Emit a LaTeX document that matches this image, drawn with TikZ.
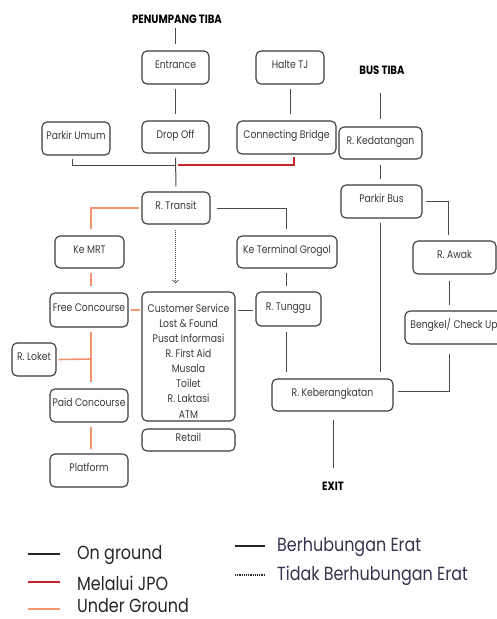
\documentclass[tikz,border=0pt]{standalone}
\usepackage{fontspec}
\setmainfont[FakeStretch=0.84]{Poppins}
\usetikzlibrary{arrows.meta}
\definecolor{ln}{HTML}{4A4A4A}
\definecolor{bd}{HTML}{3A3A3A}
\definecolor{jpo}{HTML}{C4262E}
\definecolor{ug}{HTML}{F0956E}
\definecolor{navy}{HTML}{34344F}
\newcommand\bx[6]{\node[box,minimum width={(#4)-(#2)},minimum height={(#5)-(#3)}] (#1) at ({((#2)+(#4))/2},{((#3)+(#5))/2}) {#6};}
\begin{document}
\begin{tikzpicture}[x=1pt,y=-1pt,
 box/.style={draw=bd,line width=1.1pt,rounded corners=5pt,fill=white,inner sep=0pt,text=bd,
   font=\fontsize{11}{12}\selectfont,text height=7.5pt,text depth=5pt},
 gl/.style={draw=ln,line width=1pt},
 rl/.style={draw=jpo,line width=2pt},
 ol/.style={draw=ug,line width=1.6pt},
 ttl/.style={font=\bfseries\fontsize{12}{13}\selectfont,text=black,inner sep=0pt},
 lgl/.style={font=\fontsize{19}{22}\selectfont,text=black!85,inner sep=0pt,anchor=west},
 lgr/.style={font=\fontsize{19}{22}\selectfont,text=navy,inner sep=0pt,anchor=west}]
\useasboundingbox (0,0) rectangle (497,619);
\clip (0,0) rectangle (497,619);
% titles
\node[ttl] (pt) at (177,19) {PENUMPANG TIBA};
\node[ttl] (bt) at (382,70) {BUS TIBA};
\node[ttl] (exit) at (333,486) {EXIT};
% boxes
\bx{entrance}{142}{51}{209}{84}{Entrance}
\bx{dropoff}{142}{121}{209}{153}{Drop Off}
\bx{pu}{42}{122}{110}{155}{Parkir Umum}
\bx{halte}{256}{51}{324}{84}{Halte TJ}
\bx{cb}{237}{121}{336}{154}{Connecting Bridge}
\bx{kedat}{339}{127}{422}{159}{R. Kedatangan}
\bx{pbus}{341}{185}{422}{218}{Parkir Bus}
\bx{transit}{142}{192}{210}{224}{R. Transit}
\bx{kemrt}{55}{236}{124}{268}{Ke MRT}
\bx{kt}{237}{236}{337}{268}{Ke Terminal Grogol}
\bx{awak}{413}{241}{496}{274}{R. Awak}
\bx{bengkel}{405}{311}{503}{344}{Bengkel/ Check Up}
\bx{fc}{50}{293}{128}{327}{Free Concourse}
\bx{cs}{142}{292}{235}{421}{}
\node[inner sep=0pt,text=bd,font=\fontsize{11}{15.1}\selectfont,align=center] (cstext) at (188.5,361)
 {Customer Service\\Lost \& Found\\Pusat Informasi\\R. First Aid\\Musala\\Toilet\\R. Laktasi\\ATM};
\bx{loket}{12}{343}{56}{376}{R. Loket}
\bx{paid}{50}{389}{128}{422}{Paid Concourse}
\bx{platform}{50}{454}{128}{487}{Platform}
\bx{retail}{142}{429}{235}{451}{Retail}
\bx{tunggu}{256}{292}{321}{326}{R. Tunggu}
\bx{keber}{272}{379}{393}{411}{R. Keberangkatan}
% junctions
\coordinate (j1) at (176,165);
\coordinate (j2) at (91,359);
% on-ground connectors
\draw[gl,shorten <=4pt,shorten >=6pt] (entrance.north |- pt.south) -- (entrance.north);
\draw[gl] ([yshift=-4pt]entrance.south) -- ([yshift=6pt]dropoff.north);
\draw[gl] ([yshift=-4pt]dropoff.south) -- ([yshift=5pt]transit.north);
\draw[gl] ([xshift=-4pt,yshift=-3pt]pu.south) |- (j1);
\draw[gl,shorten <=4pt,shorten >=6pt] (halte.south) -- (halte.south |- cb.north);
\draw[gl,shorten <=18pt,shorten >=7pt] (kedat.north |- bt.south) -- (kedat.north);
\draw[gl,shorten <=5pt,shorten >=5pt] (kedat.south) -- (kedat.south |- pbus.north);
\draw[gl] ([xshift=3pt]pbus.east) -| ([xshift=-6pt,yshift=5pt]awak.north);
\draw[gl,shorten <=4pt,shorten >=6pt] ([xshift=-1pt]pbus.south) -- ([xshift=-1pt]pbus.south |- keber.north);
\draw[gl] ([xshift=-5.5pt,yshift=-6pt]awak.south) -- ([xshift=-5pt,yshift=5pt]bengkel.north);
\draw[gl] ([xshift=-5pt,yshift=-9pt]bengkel.south) |- ([xshift=4pt,yshift=4pt]keber.east);
\draw[gl] ([xshift=6pt]transit.east) -| ([xshift=-1pt,yshift=6pt]kt.north);
\draw[gl] ([xshift=-1pt,yshift=-4pt]kt.south) -- ([xshift=-2.5pt,yshift=5pt]tunggu.north);
\draw[gl] ([xshift=-2.5pt,yshift=-5pt]tunggu.south) -- ([xshift=-46.5pt,yshift=6pt]keber.north);
\draw[gl] ([xshift=2pt,yshift=46.5pt]cs.east) -- ([xshift=-2pt,yshift=-1pt]tunggu.west);
\draw[gl] ([xshift=0.5pt,yshift=-8pt]keber.south) -- ([xshift=0.5pt,yshift=14pt]keber.south |- exit.north);
% JPO
\draw[rl] ([xshift=2pt]j1) -| ([xshift=7.5pt,yshift=-2pt]cb.south);
% underground
\draw[ol] ([xshift=-2pt]transit.west) -| ([xshift=1.5pt,yshift=6pt]kemrt.north);
\draw[ol] ([xshift=1.5pt,yshift=-4pt]kemrt.south) -- ([xshift=2pt,yshift=6pt]fc.north);
\draw[ol] ([xshift=2pt]fc.east) -- ([xshift=-1pt,yshift=46.5pt]cs.west);
\draw[ol] ([xshift=2pt,yshift=-4pt]fc.south) -- ([xshift=2pt,yshift=6pt]paid.north);
\draw[ol] ([xshift=2pt]loket.east) -- (j2);
\draw[ol] ([xshift=2pt,yshift=-4pt]paid.south) -- ([xshift=2pt,yshift=4pt]platform.north);
% not closely related
\draw[ln,line width=1pt,densely dotted,-{Straight Barb[length=3pt,width=6pt,line width=0.8pt]}]
  ([xshift=-0.5pt,yshift=-5pt]transit.south) -- ([xshift=-13pt,yshift=8pt]cs.north);
% legend
\coordinate (l1a) at (28,554); \coordinate (l1b) at (60,554);
\coordinate (l2a) at (28,582); \coordinate (l2b) at (60,582);
\coordinate (l3a) at (28,609); \coordinate (l3b) at (60,609);
\draw[draw=black!85,line width=1.5pt] (l1a) -- (l1b);
\draw[draw=jpo,line width=1.5pt] (l2a) -- (l2b);
\draw[draw=ug,line width=1.5pt] (l3a) -- (l3b);
\node[lgl] (lg1) at (77,555) {On ground};
\node[lgl] (lg2) at (77,583) {Melalui JPO};
\node[lgl] (lg3) at (77,605.5) {Under Ground};
\coordinate (r1a) at (235,546); \coordinate (r1b) at (265,546);
\coordinate (r2a) at (235,575); \coordinate (r2b) at (265,575);
\draw[draw=black!85,line width=1.3pt] (r1a) -- (r1b);
\draw[draw=black!85,line width=1.2pt,densely dotted] (r2a) -- (r2b);
\node[lgr] (lg4) at (277,547) {Berhubungan Erat};
\node[lgr] (lg5) at (277,576) {Tidak Berhubungan Erat};
\end{tikzpicture}
\end{document}
